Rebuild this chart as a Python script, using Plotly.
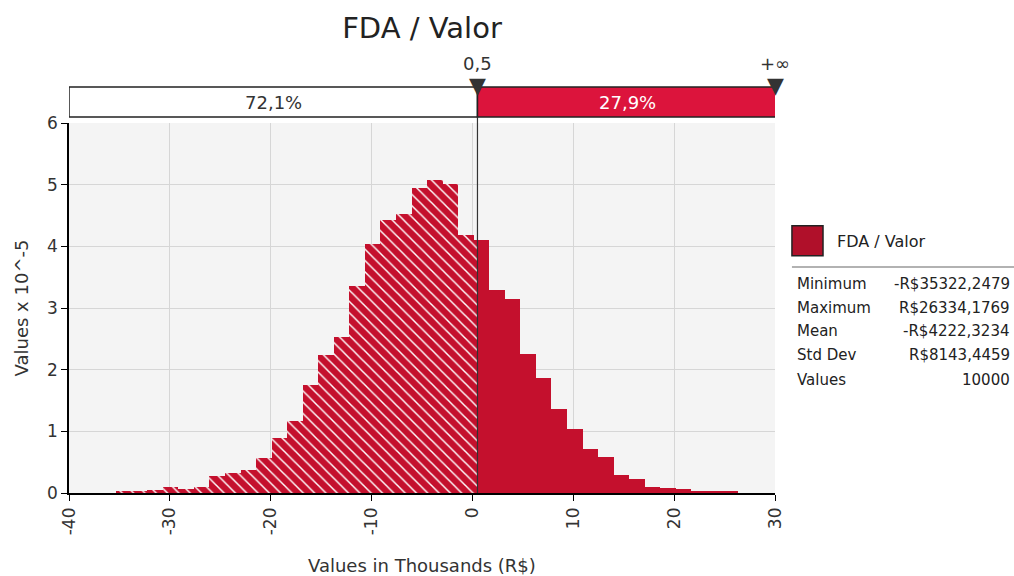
import plotly.graph_objects as go

# histogram of FDA / Valor (values in thousands R$), density x 10^-5
bin_start = -35.3222
bin_width = 1.54141
heights = [0.02, 0.03, 0.05, 0.10, 0.06, 0.09, 0.28, 0.33, 0.38, 0.56,
           0.89, 1.17, 1.75, 2.24, 2.53, 3.36, 4.04, 4.43, 4.52, 4.94,
           5.08, 5.01, 4.18, 4.10, 3.29, 3.15, 2.25, 1.86, 1.37, 1.04,
           0.72, 0.59, 0.30, 0.23, 0.10, 0.075, 0.07, 0.04, 0.02, 0.02]

x_ticks = [-40, -30, -20, -10, 0, 10, 20, 30]
x_tick_labels = ["-40", "-30", "-20", "-10", "0", "10", "20", "30"]

cut = 0.5
pct_left = "72,1%"
pct_right = "27,9%"
stat_names = ["Minimum", "Maximum", "Mean", "Std Dev", "Values"]
stat_values = ["-R$35322,2479", "R$26334,1769", "-R$4222,3234", "R$8143,4459", "10000"]

RED = "#c4102d"
CRIMSON = "#dc143c"
FONT = "DejaVu Sans"

# split bins at the delimiter
lx, lw, ly, rx, rw, ry = [], [], [], [], [], []
for i, h in enumerate(heights):
    lo = bin_start + i * bin_width
    hi = lo + bin_width
    if lo < cut:
        a, b = lo, min(hi, cut)
        lx.append((a + b) / 2); lw.append(b - a); ly.append(h)
    if hi > cut:
        a, b = max(lo, cut), hi
        rx.append((a + b) / 2); rw.append(b - a); ry.append(h)

fig = go.Figure()
fig.add_trace(go.Bar(
    x=lx, y=ly, width=lw,
    marker=dict(color=RED, line=dict(width=0),
                pattern=dict(shape="\\", fgcolor="white", bgcolor=RED,
                             size=8, solidity=0.18, fillmode="replace")),
    showlegend=False, hoverinfo="skip"))
fig.add_trace(go.Bar(
    x=rx, y=ry, width=rw,
    marker=dict(color=RED, line=dict(width=0)),
    showlegend=False, hoverinfo="skip"))

shapes = [
    dict(type="rect", xref="x", yref="paper", x0=-40, x1=cut, y0=1.016, y1=1.097,
         fillcolor="white", line=dict(color="#222", width=1.5), layer="below"),
    dict(type="rect", xref="x", yref="paper", x0=cut, x1=30.2, y0=1.016, y1=1.097,
         fillcolor=CRIMSON, line=dict(color="#222", width=1.5), layer="below"),
    dict(type="line", xref="x", yref="paper", x0=cut, x1=cut, y0=0, y1=1.016,
         line=dict(color="#333333", width=1.2)),
    # legend swatch and separator
    dict(type="rect", xref="paper", yref="paper", x0=1.024, x1=1.068, y0=0.641, y1=0.722,
         fillcolor="#b0102a", line=dict(color="#222", width=1.5)),
    dict(type="line", xref="paper", yref="paper", x0=1.024, x1=1.339, y0=0.611, y1=0.611,
         line=dict(color="#999999", width=1.5)),
]

annotations = [
    dict(text=pct_left, x=(-40 + cut) / 2, y=1.056, font=dict(size=18, color="#333")),
    dict(text=pct_right, x=(cut + 30.2) / 2, y=1.056, font=dict(size=18, color="white")),
    dict(text="0,5", x=cut, y=1.16, font=dict(size=18, color="#333")),
    dict(text="+∞", x=30, y=1.16, font=dict(size=18, color="#333")),
    # delimiter triangles
    dict(text="▼", x=cut, y=1.10, font=dict(size=22, color="#333")),
    dict(text="▼", x=30, y=1.10, font=dict(size=22, color="#333")),
]
for a in annotations:
    a.update(xref="x", yref="paper", yanchor="middle", showarrow=False)

# x axis title
annotations.append(dict(text="Values in Thousands (R$)", x=0.5, y=-0.195,
                        xref="paper", yref="paper", yanchor="middle",
                        showarrow=False, font=dict(size=18, color="#333")))
annotations.append(dict(text="FDA / Valor", x=1.085, y=0.681, xref="paper", yref="paper",
                        xanchor="left", yanchor="middle", showarrow=False,
                        font=dict(size=16, color="#222")))
row_y = [0.565, 0.5, 0.438, 0.373, 0.305]
for name, val, yy in zip(stat_names, stat_values, row_y):
    annotations.append(dict(text=name, x=1.028, y=yy, xref="paper", yref="paper",
                            xanchor="left", yanchor="middle", showarrow=False,
                            font=dict(size=15, color="#222")))
    annotations.append(dict(text=val, x=1.336, y=yy, xref="paper", yref="paper",
                            xanchor="right", yanchor="middle", showarrow=False,
                            font=dict(size=15, color="#222")))

fig.update_layout(
    width=1014, height=576,
    margin=dict(l=69, r=239, t=123, b=83),
    paper_bgcolor="white", plot_bgcolor="#f4f4f4",
    font=dict(family=FONT, size=17, color="#333"),
    title=dict(text="FDA / Valor", x=0.5, xref="paper", y=0.951, yanchor="middle",
               font=dict(size=29, color="#222")),
    bargap=0, barmode="overlay",
    shapes=shapes, annotations=annotations,
    xaxis=dict(range=[-40, 30], tickmode="array", tickvals=x_ticks,
               ticktext=x_tick_labels, automargin=False,
               tickangle=-90, ticks="outside", ticklen=6, tickcolor="black",
               showline=True, linecolor="black", linewidth=1.5,
               showgrid=True, gridcolor="#d6d6d6", zeroline=False),
    yaxis=dict(range=[0, 6], tickmode="linear", dtick=1,
               ticks="outside", ticklen=6, tickcolor="black",
               showline=True, linecolor="black", linewidth=1.5,
               showgrid=True, gridcolor="#d6d6d6", zeroline=False,
               title=dict(text="Values x 10^-5", standoff=14,
                          font=dict(size=18))),
)

fig.write_html("out.html", config={"displayModeBar": False},
               post_script="document.body.style.margin='0';")
